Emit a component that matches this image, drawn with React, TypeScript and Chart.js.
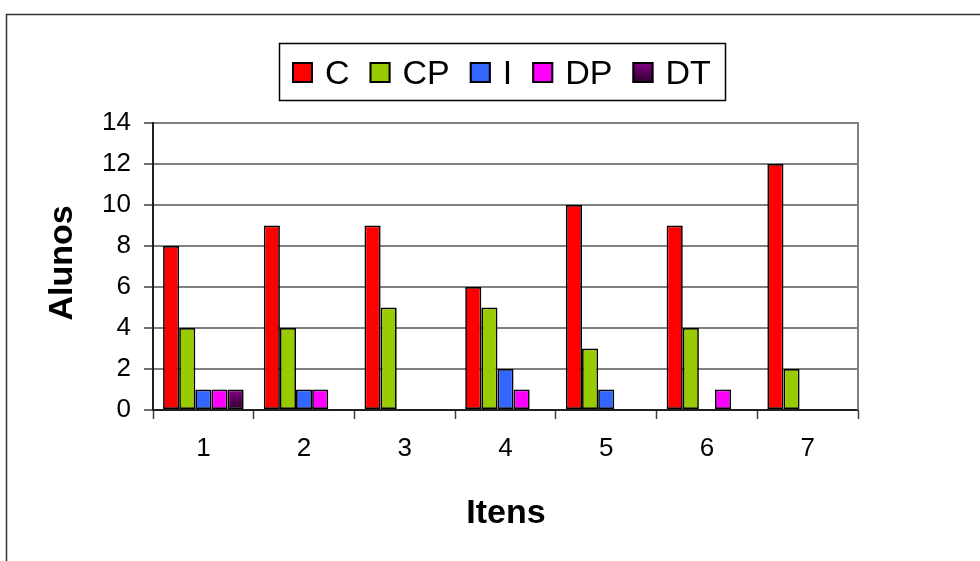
import React, { useEffect, useRef } from 'react';
import { Chart, registerables } from 'chart.js';

Chart.register(...registerables);

const categories = ['1', '2', '3', '4', '5', '6', '7'];
const seriesNames = ['C', 'CP', 'I', 'DP', 'DT'];
const valuesC = [8, 9, 9, 6, 10, 9, 12];
const valuesCP = [4, 4, 5, 5, 3, 4, 2];
const valuesI = [1, 1, 0, 2, 1, 0, 0];
const valuesDP = [1, 1, 0, 1, 0, 1, 0];
const valuesDT = [1, 0, 0, 0, 0, 0, 0];
const yTicks = [0, 2, 4, 6, 8, 10, 12, 14];
const seriesColors = ['#FF0000', '#99CC00', '#3366FF', '#FF00FF', '#660066'];
const yTitle = 'Alunos';
const xTitle = 'Itens';

const FONT = '"Liberation Sans", Arial, Helvetica, sans-serif';

function dtGradient(ctx: CanvasRenderingContext2D, top: number, bottom: number) {
  const g = ctx.createLinearGradient(0, top, 0, bottom);
  g.addColorStop(0, '#880088');
  g.addColorStop(1, '#2a002a');
  return g;
}

const decorPlugin = {
  id: 'decor',
  beforeDraw(chart: any) {
    const ctx = chart.ctx as CanvasRenderingContext2D;
    ctx.save();
    ctx.fillStyle = '#ffffff';
    ctx.fillRect(0, 0, chart.width, chart.height);
    ctx.strokeStyle = '#333333';
    ctx.lineWidth = 1.5;
    ctx.strokeRect(6.5, 14.5, chart.width + 20, chart.height + 20);
    ctx.restore();
  },
  beforeDatasetsDraw(chart: any) {
    const ctx = chart.ctx as CanvasRenderingContext2D;
    const a = chart.chartArea;
    ctx.save();
    ctx.strokeStyle = '#808080';
    ctx.lineWidth = 2;
    ctx.beginPath();
    ctx.moveTo(a.right, a.top - 1);
    ctx.lineTo(a.right, a.bottom);
    ctx.stroke();
    ctx.restore();
  },
  afterDraw(chart: any) {
    const ctx = chart.ctx as CanvasRenderingContext2D;
    ctx.save();
    // axis titles
    ctx.fillStyle = '#000000';
    ctx.font = `bold 34px ${FONT}`;
    ctx.textAlign = 'center';
    ctx.textBaseline = 'middle';
    ctx.save();
    ctx.translate(63, 263);
    ctx.rotate(-Math.PI / 2);
    ctx.fillText(yTitle, 0, 0);
    ctx.restore();
    ctx.textBaseline = 'alphabetic';
    ctx.fillText(xTitle, 506, 523);

    // legend
    ctx.lineWidth = 1.5;
    ctx.strokeStyle = '#000000';
    ctx.strokeRect(279.5, 43.5, 446, 57);
    ctx.font = `34px ${FONT}`;
    ctx.textAlign = 'left';
    let x = 292;
    const boxTop = 62;
    const box = 21;
    chart.data.datasets.forEach((ds: any, i: number) => {
      ctx.fillStyle = i === 4 ? dtGradient(ctx, boxTop, boxTop + box) : seriesColors[i];
      ctx.fillRect(x, boxTop, box, box);
      ctx.lineWidth = 2;
      ctx.strokeStyle = '#000000';
      ctx.strokeRect(x + 1, boxTop + 1, box - 2, box - 2);
      x += box + 12;
      ctx.fillStyle = '#000000';
      ctx.fillText(ds.label, x, 84);
      x += ctx.measureText(ds.label).width + 20;
    });
    ctx.restore();
  },
};

export default function App() {
  const ref = useRef<HTMLCanvasElement | null>(null);

  useEffect(() => {
    if (!ref.current) return;
    const seriesValues = [valuesC, valuesCP, valuesI, valuesDP, valuesDT];
    const chart = new Chart(ref.current, {
      type: 'bar',
      data: {
        labels: categories,
        datasets: seriesNames.map((name, i) => ({
          label: name,
          data: seriesValues[i],
          backgroundColor:
            i === 4
              ? (c: any) => {
                  const ch = c.chart;
                  const ys = ch.scales && ch.scales.y;
                  if (!ys || c.raw === undefined) return seriesColors[i];
                  const top = ys.getPixelForValue(c.raw);
                  const bottom = ys.getPixelForValue(0);
                  if (!(bottom > top)) return seriesColors[i];
                  return dtGradient(ch.ctx, top, bottom);
                }
              : seriesColors[i],
          borderColor: '#000000',
          borderWidth: 1.7,
          borderSkipped: false,
          categoryPercentage: 0.8,
          barPercentage: 1,
        })),
      },
      options: {
        responsive: false,
        devicePixelRatio: 1,
        animation: false,
        layout: { padding: { top: 123, right: 122, left: 0, bottom: 0 } },
        plugins: {
          legend: { display: false },
          tooltip: { enabled: false },
          title: { display: false },
        },
        scales: {
          x: {
            grid: {
              offset: true,
              drawOnChartArea: false,
              drawTicks: true,
              tickLength: 9,
              tickColor: '#404040',
              tickWidth: 1.5,
            },
            border: { display: true, color: '#202020', width: 2 },
            ticks: {
              color: '#000000',
              font: { family: FONT, size: 26 },
              padding: 14,
              maxRotation: 0,
            },
            afterFit: (s: any) => {
              s.height = 151;
            },
          },
          y: {
            min: 0,
            max: 14,
            afterBuildTicks: (s: any) => {
              s.ticks = yTicks.map((v) => ({ value: v }));
            },
            grid: {
              color: '#808080',
              lineWidth: 2,
              drawTicks: true,
              tickLength: 9,
              tickColor: '#404040',
              tickWidth: 1.5,
            },
            border: { display: true, color: '#202020', width: 2 },
            ticks: {
              color: '#000000',
              font: { family: FONT, size: 26 },
              padding: 13,
            },
            afterFit: (s: any) => {
              s.width = 153;
            },
          },
        },
      },
      plugins: [decorPlugin],
    });
    return () => chart.destroy();
  }, []);

  return (
    <div style={{ position: 'absolute', left: 0, top: 0, width: 980, height: 561 }}>
      <canvas ref={ref} width={980} height={561} style={{ display: 'block', width: 980, height: 561 }} />
    </div>
  );
}
